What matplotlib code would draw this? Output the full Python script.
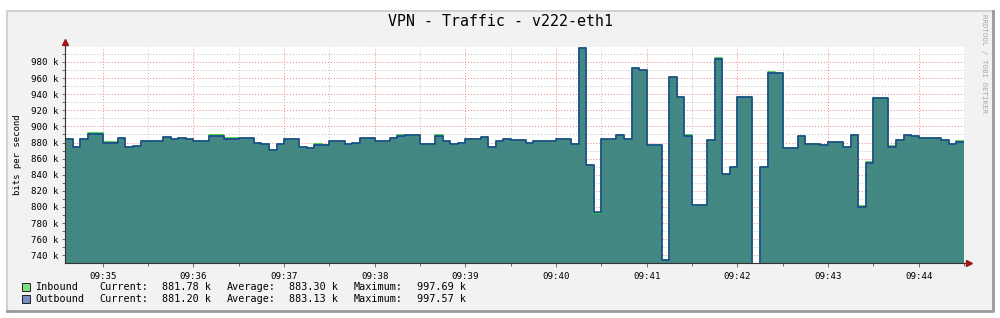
import numpy as np
import pandas as pd
import matplotlib
matplotlib.use('Agg')
import matplotlib.pyplot as plt
import matplotlib.dates as mdates
from matplotlib.patches import Rectangle
from matplotlib.lines import Line2D

#%% data, 5 s samples starting 09:34:35 (values in kbit/s)
start = '2021-11-01 09:34:35'
step = '5s'

outbound = [884, 875, 884, 890, 890, 880, 880, 885, 875, 876,
            882, 882, 882, 886.5, 884, 885, 884, 882, 882, 888.5,
            888.5, 884.5, 884.5, 885.5, 885.5, 879, 878, 871, 878, 884,
            884, 874, 873, 877, 877, 882, 882, 878, 879, 885,
            885, 882, 882, 885, 888, 889, 889, 878, 878, 888,
            882, 878, 879, 884, 884, 887, 875, 882, 884, 883.5,
            883.5, 879, 882, 881.5, 881.5, 884.7, 884.7, 877.8, 997.57, 852.4,
            793.5, 884.7, 884.7, 888.9, 884.5, 972.9, 970, 876.9, 876.9, 734,
            961.8, 936.9, 888.1, 802.8, 802.8, 883.1, 983.3, 840.9, 849.2, 936.9,
            936.9, 700, 850, 966.7, 966, 873.6, 873.6, 888.1, 878, 878,
            876.5, 880.6, 880.6, 874.8, 888.9, 800.3, 854.9, 935.7, 935.7, 874.8,
            883.1, 889.7, 888, 885, 885, 885, 883, 878, 881.2]

# inbound mostly on top of outbound, a bit higher in a few places
inbound = list(outbound)
for i, d in [(3, 1.3), (4, 1.3), (5, 1), (6, 1), (19, 1), (20, 1), (21, 1), (22, 1),
             (33, 1), (39, 0.8), (40, 0.8), (44, 1), (45, 0.8), (46, 0.8), (49, 1),
             (70, -0.8), (82, 1), (86, 1.3), (93, 0.8), (94, 0.8), (105, 0.6),
             (106, 0.8), (109, 0.8), (113, 0.8), (114, 0.8), (115, 1)]:
    inbound[i] = outbound[i] + d
inbound[68] = 997.69
inbound[118] = 881.78

legend_rows = [('Inbound', '881.78 k', '883.30 k', '997.69 k', '#7ce07c'),
               ('Outbound', '881.20 k', '883.13 k', '997.57 k', '#7a8cc8')]

y_ticks = np.arange(740, 981, 20)

#%% figure
mono = 'DejaVu Sans Mono'
fig = plt.figure(figsize=(10, 3.18), dpi=100, facecolor='white')

# grey panel with 3d-ish border
W, H = 1000, 318
def fx(px):
    return px / W
def fy(py):
    return 1 - py / H

fig.patches.append(Rectangle((fx(7), fy(311)), fx(986), 300 / H, transform=fig.transFigure,
                             facecolor='#f2f2f2', edgecolor='none', zorder=-5))
fig.lines.append(Line2D([fx(7), fx(7), fx(993)], [fy(311), fy(11), fy(11)],
                        transform=fig.transFigure, color='#d2d2d2', lw=1.5, zorder=-4))
fig.lines.append(Line2D([fx(7), fx(993), fx(993)], [fy(311), fy(311), fy(11)],
                        transform=fig.transFigure, color='#9a9a9a', lw=2, zorder=-4))

ax = fig.add_axes([fx(65), fy(263.3), fx(899), (263.3 - 46.7) / H])
ax.set_facecolor('white')

t = pd.date_range(start, periods=len(outbound) + 1, freq=step)
tx = mdates.date2num(t.to_pydatetime())
out_y = np.append(outbound, outbound[-1])
in_y = np.append(inbound, inbound[-1])
top_y = np.maximum(in_y, out_y)

# fill is a little see-through so the grid shows faintly, as in rrdtool
ax.fill_between(tx, 0, top_y, step='post', color='#367f7b', alpha=0.93, lw=0, zorder=2)
ax.step(tx, in_y, where='post', color='#22cc22', lw=1.1, zorder=4)
ax.step(tx, out_y, where='post', color='#1c3c9c', lw=1.1, zorder=5)

ax.set_xlim(tx[0], tx[-1])
ax.set_ylim(730, 999)

ax.xaxis.set_major_locator(mdates.MinuteLocator())
ax.xaxis.set_minor_locator(mdates.SecondLocator(bysecond=[30]))
ax.xaxis.set_major_formatter(mdates.DateFormatter('%H:%M'))
ax.set_yticks(y_ticks)
ax.set_yticks(np.arange(740, 999, 10), minor=True)
ax.set_yticklabels(['%d k' % v for v in y_ticks])

ax.set_axisbelow(True)
ax.grid(which='major', color='#f08080', ls=(0, (1, 2)), lw=0.7, zorder=1)
ax.grid(which='minor', color='#bdbdbd', ls=(0, (1, 2)), lw=0.7, zorder=1)

for lab in ax.get_xticklabels() + ax.get_yticklabels():
    lab.set_family(mono)
    lab.set_fontsize(6.6)
ax.tick_params(which='both', length=2.5, width=0.6, color='#555555', pad=2)
ax.tick_params(axis='x', which='major', length=3, pad=3)

for s in ['top', 'right']:
    ax.spines[s].set_visible(False)
for s in ['left', 'bottom']:
    ax.spines[s].set_color('#333333')
    ax.spines[s].set_linewidth(0.8)
    ax.spines[s].set_zorder(6)

# axis arrows
ax.plot([0, 0], [1, 1.02], color='#333333', lw=0.8, transform=ax.transAxes, clip_on=False)
ax.plot([1, 1.005], [0, 0], color='#333333', lw=0.8, transform=ax.transAxes, clip_on=False)
ax.plot(0, 1.02, marker='^', ms=4, color='#a01818', transform=ax.transAxes, clip_on=False)
ax.plot(1.006, 0, marker='>', ms=4, color='#a01818', transform=ax.transAxes, clip_on=False)

#%% texts
fig.text(0.5, fy(22), 'VPN - Traffic - v222-eth1', family=mono, fontsize=10.7,
         ha='center', va='center', color='black')
fig.text(fx(18), fy(155), 'bits per second', family=mono, fontsize=6.5,
         rotation=90, ha='center', va='center')
fig.text(fx(984), fy(64), 'RRDTOOL / TOBI OETIKER', family=mono, fontsize=5.3,
         rotation=-90, ha='center', va='center', color='#a8a8a8')

for k, (name, cur, avg, mx, col) in enumerate(legend_rows):
    yy = fy(286.5 + 12.5 * k)
    fig.patches.append(Rectangle((fx(22), yy - 4 / H), 8 / W, 8 / H, transform=fig.transFigure,
                                 facecolor=col, edgecolor='#222222', lw=0.7))
    for xp, txt in [(35, name), (99, 'Current:'), (162, cur), (227, 'Average:'),
                    (289, avg), (354, 'Maximum:'), (417, mx)]:
        fig.text(fx(xp), yy, txt, family=mono, fontsize=7.3, ha='left', va='center')

plt.savefig('out.png', dpi=100, facecolor='white')
